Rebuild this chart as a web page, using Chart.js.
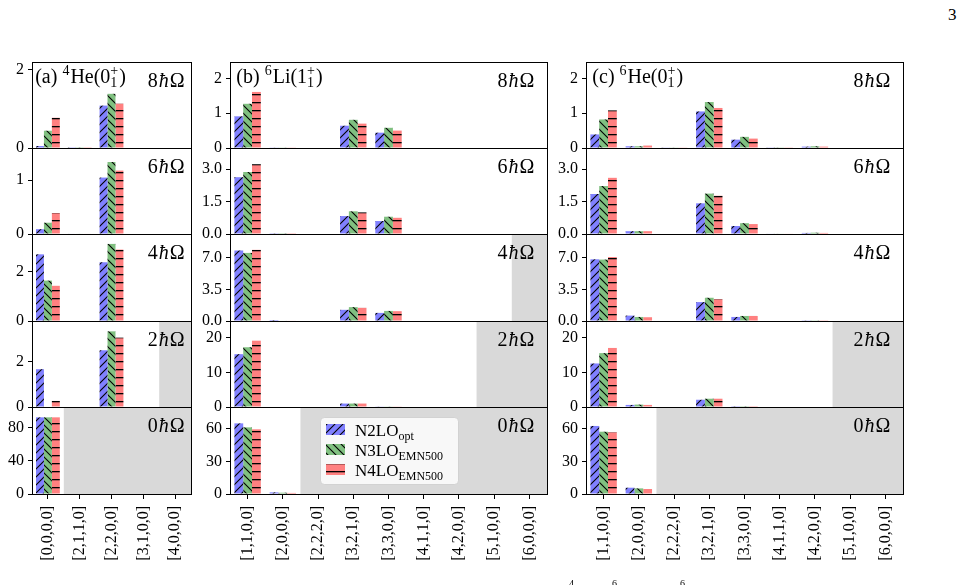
<!DOCTYPE html>
<html><head><meta charset="utf-8">
<script src="https://cdn.jsdelivr.net/npm/chart.js@4/dist/chart.umd.min.js"></script>
<style>
html,body{margin:0;padding:0;background:#fff;width:969px;height:585px;overflow:hidden;position:relative;font-family:'Liberation Serif',serif;}
canvas{position:absolute;}
.txt{position:absolute;color:#000;font-family:'Liberation Serif',serif;white-space:nowrap;}
</style></head><body>
<div id="root"></div>
<div class="txt" style="left:948px;top:5px;font-size:17px;">3</div>
<div class="txt" style="left:569px;top:578px;font-size:10px;">4</div>
<div class="txt" style="left:612px;top:578px;font-size:10px;">6</div>
<div class="txt" style="left:680px;top:578px;font-size:10px;">6</div>
<script>
// ---------- DATA ----------
const seriesNames = ['N2LO_opt', 'N3LO_EMN500', 'N4LO_EMN500'];
const shellLabels = ['8', '6', '4', '2', '0'];   // N ħΩ per row (top to bottom)

const catsHe4 = ['[0,0,0,0]', '[2,1,1,0]', '[2,2,0,0]', '[3,1,0,0]', '[4,0,0,0]'];
const catsA6  = ['[1,1,0,0]', '[2,0,0,0]', '[2,2,2,0]', '[3,2,1,0]', '[3,3,0,0]', '[4,1,1,0]', '[4,2,0,0]', '[5,1,0,0]', '[6,0,0,0]'];

// (a) 4He(0+1): rows 8,6,4,2,0 hbar-omega
const He4_N2LO = [[0.05, 0.02, 1.08, 0, 0], [0.09, 0.01, 1.05, 0, 0], [2.69, 0, 2.37, 0, 0], [1.68, 0, 2.52, 0, 0], [92, 0, 0, 0, 0]];
const He4_N3LO = [[0.44, 0.02, 1.38, 0, 0], [0.21, 0.01, 1.34, 0, 0], [1.63, 0, 3.11, 0, 0], [0, 0, 3.36, 0, 0], [92, 0, 0, 0, 0]];
const He4_N4LO = [[0.77, 0.02, 1.13, 0, 0], [0.39, 0.01, 1.18, 0, 0], [1.42, 0, 2.88, 0, 0], [0.27, 0, 3.08, 0, 0], [92, 0, 0, 0, 0]];

// (b) 6Li(1+1)
const Li6_N2LO = [[0.91, 0.01, 0, 0.64, 0.44, 0, 0, 0, 0], [2.63, 0.01, 0, 0.83, 0.60, 0, 0, 0, 0], [7.83, 0.11, 0, 1.24, 0.90, 0, 0, 0, 0], [15.3, 0, 0, 1.0, 0.1, 0, 0, 0, 0], [65.2, 1.5, 0, 0, 0, 0, 0, 0, 0]];
const Li6_N3LO = [[1.27, 0.01, 0, 0.81, 0.58, 0, 0, 0, 0], [2.87, 0.01, 0, 1.05, 0.80, 0, 0, 0, 0], [7.56, 0.06, 0, 1.54, 1.12, 0, 0, 0, 0], [17.3, 0, 0, 1.0, 0.1, 0, 0, 0, 0], [61.5, 1.2, 0, 0, 0, 0, 0, 0, 0]];
const Li6_N4LO = [[1.61, 0.01, 0, 0.70, 0.50, 0, 0, 0, 0], [3.23, 0.01, 0, 1.00, 0.75, 0, 0, 0, 0], [7.90, 0.05, 0, 1.46, 1.09, 0, 0, 0, 0], [19.2, 0, 0, 1.0, 0.1, 0, 0, 0, 0], [59.7, 1.0, 0, 0, 0, 0, 0, 0, 0]];

// (c) 6He(0+1)
const He6_N2LO = [[0.39, 0.05, 0.01, 1.05, 0.24, 0.02, 0.04, 0, 0], [1.85, 0.13, 0, 1.42, 0.37, 0.02, 0.05, 0, 0], [6.85, 0.60, 0, 2.10, 0.45, 0, 0.08, 0, 0], [12.6, 0.6, 0, 2.1, 0.05, 0, 0, 0, 0], [62.8, 5.8, 0, 0, 0, 0, 0, 0, 0]];
const He6_N3LO = [[0.82, 0.05, 0.01, 1.32, 0.32, 0.02, 0.05, 0, 0], [2.22, 0.13, 0, 1.87, 0.50, 0.02, 0.06, 0, 0], [6.82, 0.45, 0, 2.58, 0.56, 0, 0.08, 0, 0], [15.6, 0.7, 0, 2.4, 0.05, 0, 0, 0, 0], [57.5, 5.2, 0, 0, 0, 0, 0, 0, 0]];
const He6_N4LO = [[1.08, 0.07, 0.01, 1.15, 0.27, 0.02, 0.04, 0, 0], [2.60, 0.13, 0, 1.77, 0.46, 0.02, 0.05, 0, 0], [7.10, 0.42, 0, 2.43, 0.56, 0, 0.08, 0, 0], [17.1, 0.6, 0, 2.4, 0.05, 0, 0, 0, 0], [57.0, 4.6, 0, 0, 0, 0, 0, 0, 0]];

// y axes per row
const yMaxA  = [2.19, 1.6, 3.51, 3.82, 104.4];
const yTicksA = [[0, 2], [0, 1], [0, 2], [0, 2], [0, 40, 80]];
const yTickLabelsA = [['0', '2'], ['0', '1'], ['0', '2'], ['0', '2'], ['0', '40', '80']];
const yMaxBC = [2.47, 3.98, 9.66, 24.9, 80.3];
const yTicksBC = [[0, 1, 2], [0, 1.5, 3], [0, 3.5, 7], [0, 10, 20], [0, 30, 60]];
const yTickLabelsBC = [['0', '1', '2'], ['0.0', '1.5', '3.0'], ['0.0', '3.5', '7.0'], ['0', '10', '20'], ['0', '30', '60']];

// forbidden (shaded) region starts at this category position, per row
const shadeA = [null, null, null, 3.5, 0.5];
const shadeB = [null, null, 7.5, 6.5, 1.5];
const shadeC = [null, null, 8.5, 6.5, 1.5];

// ---------- LAYOUT / STYLE ----------
const FONT = "'Liberation Serif', serif";
const COLORS = ['#8080ff', '#80c080', '#ff8080'];
const HATCH = ['/', '\\', '-'];
const COL_LEFT = [32, 230, 586], COL_RIGHT = [191, 547, 903];
const ROW_TOP = [62, 148, 234, 321, 407, 494];

const panels = [
  { cats: catsHe4, data: [He4_N2LO, He4_N3LO, He4_N4LO], yMax: yMaxA, yTicks: yTicksA, yLab: yTickLabelsA, shade: shadeA,
    title: [{t: '(a) '}, {t: '4', sup: true}, {t: 'He(0'}, {sub: '1', sup2: '+'}, {t: ')'}] },
  { cats: catsA6, data: [Li6_N2LO, Li6_N3LO, Li6_N4LO], yMax: yMaxBC, yTicks: yTicksBC, yLab: yTickLabelsBC, shade: shadeB,
    title: [{t: '(b) '}, {t: '6', sup: true}, {t: 'Li(1'}, {sub: '1', sup2: '+'}, {t: ')'}] },
  { cats: catsA6, data: [He6_N2LO, He6_N3LO, He6_N4LO], yMax: yMaxBC, yTicks: yTicksBC, yLab: yTickLabelsBC, shade: shadeC,
    title: [{t: '(c) '}, {t: '6', sup: true}, {t: 'He(0'}, {sub: '1', sup2: '+'}, {t: ')'}] }
];

Chart.defaults.font.family = FONT;
Chart.defaults.color = '#000';

function makePattern(ctx, color, type) {
  const s = 8, c = document.createElement('canvas');
  c.width = s; c.height = s;
  const g = c.getContext('2d');
  g.fillStyle = color; g.fillRect(0, 0, s, s);
  g.strokeStyle = '#000'; g.fillStyle = '#000'; g.lineWidth = 1.1;
  g.beginPath();
  if (type === '/') {
    g.moveTo(-1, s + 1); g.lineTo(s + 1, -1);
    g.moveTo(-1, 1); g.lineTo(1, -1);
    g.moveTo(s - 1, s + 1); g.lineTo(s + 1, s - 1);
    g.stroke();
  } else if (type === '\\') {
    g.moveTo(-1, -1); g.lineTo(s + 1, s + 1);
    g.moveTo(s - 1, -1); g.lineTo(s + 1, 1);
    g.moveTo(-1, s - 1); g.lineTo(1, s + 1);
    g.stroke();
  } else {
    g.fillRect(0, 4, s, 1.3);
  }
  return ctx.createPattern(c, 'repeat');
}

function fontStr(size, italic) { return (italic ? 'italic ' : '') + size + 'px ' + FONT; }

function drawRich(ctx, x, y, parts, size, align, subRatio) {
  const sub = Math.round(size * (subRatio || 0.7));
  const items = parts.map(p => {
    if (p.sub !== undefined) {
      ctx.font = fontStr(sub);
      return { p, w: Math.max(ctx.measureText(p.sub).width, ctx.measureText(p.sup2).width) + 1 };
    }
    ctx.font = fontStr(p.sup || p.lo ? sub : size, p.it);
    return { p, w: ctx.measureText(p.t).width + (p.sup ? 1 : 0) + (p.gap || 0) };
  });
  const total = items.reduce((a, b) => a + b.w, 0);
  let cx = align === 'right' ? x - total : x;
  ctx.textAlign = 'left'; ctx.textBaseline = 'alphabetic'; ctx.fillStyle = '#000';
  items.forEach(({ p, w }) => {
    if (p.sub !== undefined) {
      ctx.font = fontStr(sub);
      ctx.fillText(p.sup2, cx, y - size * 0.40);
      ctx.fillText(p.sub, cx, y + size * 0.22);
    } else if (p.sup) {
      ctx.font = fontStr(sub); ctx.fillText(p.t, cx, y - size * 0.38);
    } else if (p.lo) {
      ctx.font = fontStr(sub); ctx.fillText(p.t, cx, y + size * 0.25);
    } else {
      ctx.font = fontStr(size, p.it); ctx.fillText(p.t, cx, y);
    }
    cx += w;
  });
}

const cellPlugin = {
  id: 'cell',
  beforeDatasetsDraw(chart) {
    const o = chart.options.plugins.cell, ca = chart.chartArea, ctx = chart.ctx;
    if (o.shade !== null && o.shade !== undefined) {
      const x0 = chart.scales.x.getPixelForValue(o.shade);
      ctx.save(); ctx.fillStyle = '#d9d9d9';
      ctx.fillRect(x0, ca.top, ca.right - x0, ca.bottom - ca.top);
      ctx.restore();
    }
  },
  afterDatasetsDraw(chart) {
    const o = chart.options.plugins.cell, ca = chart.chartArea, ctx = chart.ctx;
    ctx.save();
    // legend
    if (o.legend) {
      const w = 138, h = 67, lx = Math.round((ca.left + ca.right) / 2 - w / 2), ly = ca.top + 10;
      ctx.fillStyle = 'rgba(255,255,255,0.8)';
      ctx.strokeStyle = 'rgba(204,204,204,0.8)'; ctx.lineWidth = 1;
      ctx.beginPath(); ctx.roundRect(lx + 0.5, ly + 0.5, w, h, 4); ctx.fill(); ctx.stroke();
      const names = [['N2LO', 'opt'], ['N3LO', 'EMN500'], ['N4LO', 'EMN500']];
      names.forEach((n, i) => {
        const cy = ly + 13 + i * 20;
        ctx.fillStyle = chart.data.datasets[i].backgroundColor;
        ctx.fillRect(lx + 6, cy - 6, 19, 11);
        drawRich(ctx, lx + 35, cy + 6, [{ t: n[0] }, { t: n[1], lo: true }], 17, 'left');
      });
    }
    // frame
    ctx.strokeStyle = '#000'; ctx.lineWidth = 1;
    ctx.strokeRect(Math.round(ca.left) + 0.5, Math.round(ca.top) + 0.5, Math.round(ca.right - ca.left), Math.round(ca.bottom - ca.top));
    // row label
    const rx = ca.left + 0.96 * (ca.right - ca.left);
    drawRich(ctx, rx, ca.top + 25, [{ t: o.shell, gap: 1 }, { t: 'ħ', it: true, gap: 1 }, { t: 'Ω' }], 20, 'right');
    if (o.title) drawRich(ctx, ca.left + 0.02 * (ca.right - ca.left), ca.top + 21, o.title, 20, 'left', 0.72);
    ctx.restore();
  }
};

const root = document.getElementById('root');
panels.forEach((P, pi) => {
  for (let r = 0; r < 5; r++) {
    const L = COL_LEFT[pi], R = COL_RIGHT[pi], T = ROW_TOP[r], B = ROW_TOP[r + 1];
    const padL = 50, padT = 20, padR = 12, isBottom = r === 4;
    const xH = 80;
    const W = R - L + padL + padR;
    const H = B - T + padT + (isBottom ? xH : 20);
    const cv = document.createElement('canvas');
    cv.width = W; cv.height = H;
    cv.style.left = (L - padL) + 'px'; cv.style.top = (T - padT) + 'px';
    cv.style.width = W + 'px'; cv.style.height = H + 'px';
    root.appendChild(cv);
    const ctx = cv.getContext('2d');
    const ticks = P.yTicks[r], labs = P.yLab[r];
    new Chart(cv, {
      type: 'bar',
      data: {
        labels: P.cats,
        datasets: seriesNames.map((nm, si) => ({
          label: nm,
          data: P.data[si][r],
          backgroundColor: makePattern(ctx, COLORS[si], HATCH[si]),
          borderWidth: 0,
          categoryPercentage: 0.75,
          barPercentage: 1.0
        }))
      },
      options: {
        responsive: false, animation: false, devicePixelRatio: 1,
        layout: { padding: { left: 0, right: padR, top: padT, bottom: isBottom ? 0 : 20 } },
        plugins: {
          legend: { display: false }, tooltip: { enabled: false },
          cell: { shade: P.shade[r], shell: shellLabels[r], title: r === 0 ? P.title : null, legend: pi === 1 && r === 4 }
        },
        scales: {
          x: {
            type: 'category', offset: true, display: isBottom,
            afterFit: s => { s.height = isBottom ? xH : 0; },
            grid: { display: true, drawOnChartArea: false, drawTicks: true, tickLength: 5, color: '#000', lineWidth: 1, offset: false },
            border: { display: false },
            ticks: { autoSkip: false, maxRotation: 90, minRotation: 90, padding: 7, font: { size: 16, family: FONT }, color: '#000' }
          },
          y: {
            min: 0, max: P.yMax[r],
            afterFit: s => { s.width = padL; },
            afterBuildTicks: s => { s.ticks = ticks.map(v => ({ value: v })); },
            grid: { display: true, drawOnChartArea: false, drawTicks: true, tickLength: 4, color: '#000', lineWidth: 1 },
            border: { display: false },
            ticks: { padding: 4, font: { size: 16, family: FONT }, color: '#000',
              callback: v => { const i = ticks.indexOf(v); return i >= 0 ? labs[i] : ''; } }
          }
        }
      },
      plugins: [cellPlugin]
    });
  }
});
</script>
</body></html>
